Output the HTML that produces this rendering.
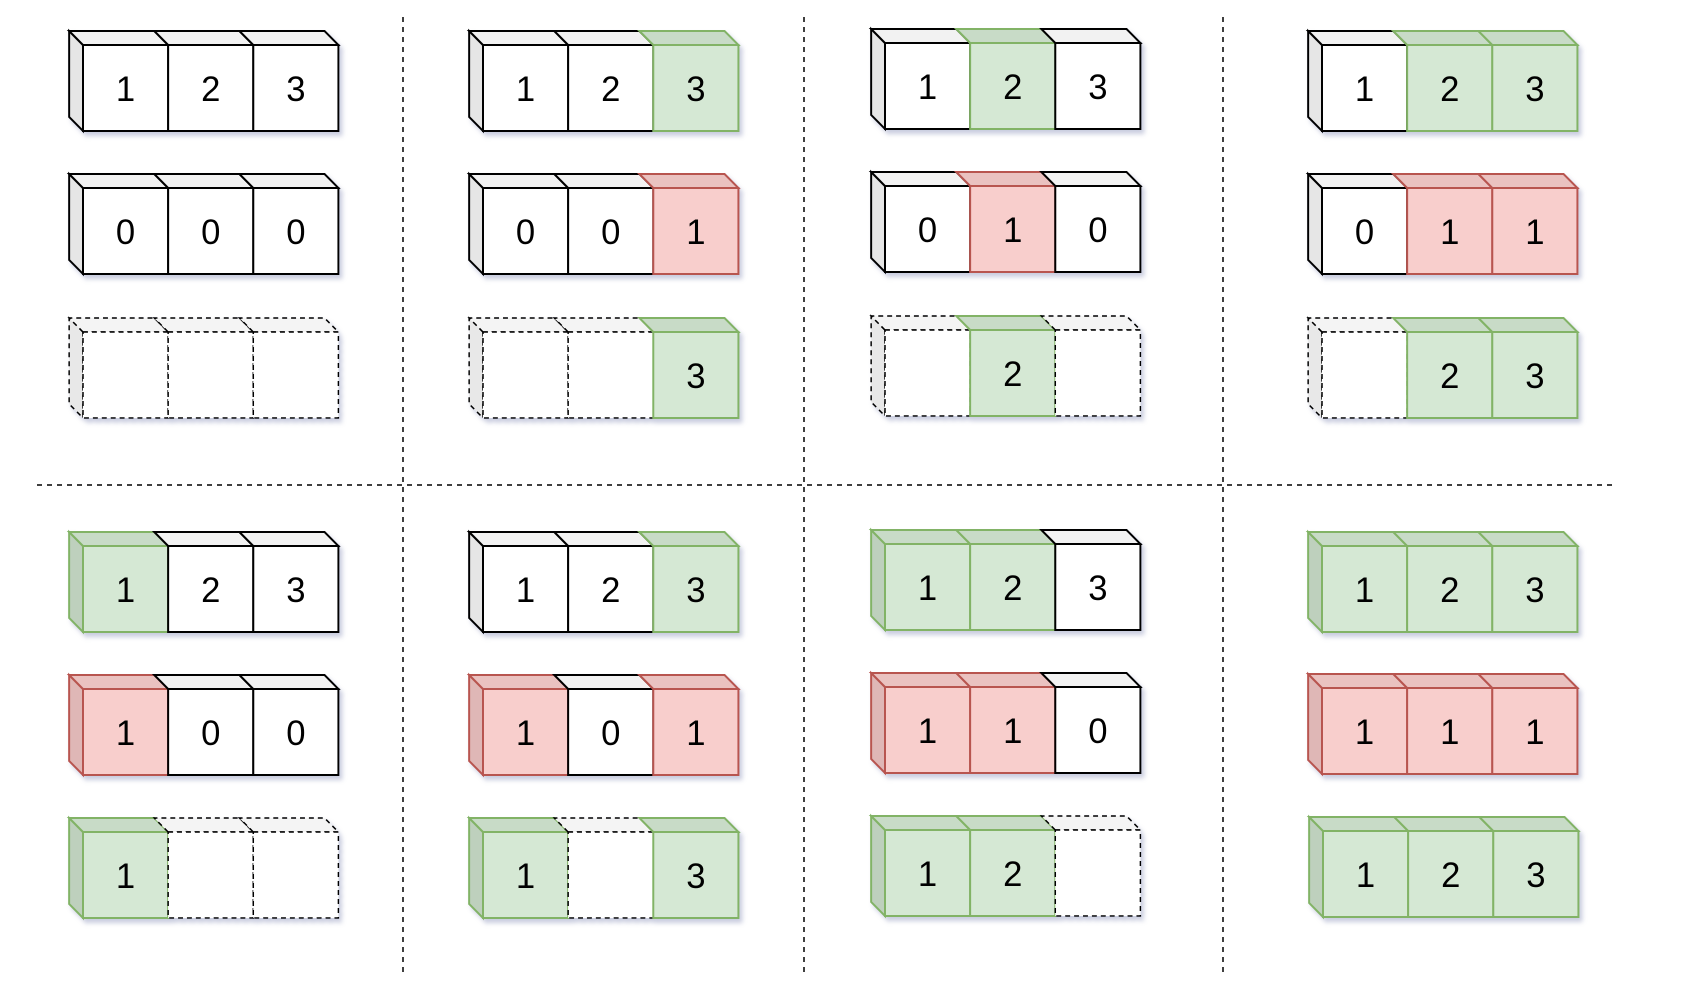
<!DOCTYPE html>
<html><head><meta charset="utf-8"><style>
html,body{margin:0;padding:0;background:#fff;}
svg{display:block}
text{font-family:"Liberation Sans",sans-serif;font-size:35px;text-anchor:middle;fill:#000;stroke:none!important}
.W rect{fill:#fff}.W .t{fill:#f2f2f2}.W .s{fill:#e6e6e6}.W *{stroke:#000;stroke-width:2}
.G rect{fill:#d5e8d4}.G .t{fill:#c8dbc7}.G .s{fill:#bed0bd}.G *{stroke:#82b366;stroke-width:2}
.R rect{fill:#f8cecc}.R .t{fill:#eac2c0}.R .s{fill:#dfb7b6}.R *{stroke:#b85450;stroke-width:2}
.D rect{fill:#fff}.D .t{fill:#f4f4f4}.D .s{fill:#e8e8e8}.D *{stroke:#000;stroke-width:1.5;stroke-dasharray:5 4}
.ln{stroke:#000;stroke-width:1.5;stroke-dasharray:5 5;fill:none}
</style></head><body>
<svg width="1682" height="1004" viewBox="0 0 1682 1004" xmlns="http://www.w3.org/2000/svg">
<defs>
<filter id="sh" x="-10%" y="-20%" width="130%" height="150%">
<feGaussianBlur in="SourceAlpha" stdDeviation="2.5"/>
<feOffset dx="3" dy="4" result="b"/>
<feFlood flood-color="#8890b8" flood-opacity="0.45"/>
<feComposite in2="b" operator="in"/>
<feMerge><feMergeNode/><feMergeNode in="SourceGraphic"/></feMerge>
</filter>
</defs>

<line class="ln" x1="403" y1="17" x2="403" y2="975"/>
<line class="ln" x1="804" y1="17" x2="804" y2="975"/>
<line class="ln" x1="1223" y1="17" x2="1223" y2="975"/>
<line class="ln" x1="37" y1="485" x2="1615" y2="485"/>

<!-- TOP col1 -->
<g transform="translate(83,45) scale(0.99,1)" filter="url(#sh)">
<g class="W"><polygon class="s" points="0,0 -14,-14 -14,72 0,86"/><polygon class="t" points="0,0 -14,-14 72,-14 86,0"/><rect width="86" height="86"/><text x="43" y="56">1</text></g>
<g class="W" transform="translate(86,0)"><polygon class="t" points="0,0 -14,-14 72,-14 86,0"/><rect width="86" height="86"/><text x="43" y="56">2</text></g>
<g class="W" transform="translate(172,0)"><polygon class="t" points="0,0 -14,-14 72,-14 86,0"/><rect width="86" height="86"/><text x="43" y="56">3</text></g>
</g>
<g transform="translate(83,188) scale(0.99,1)" filter="url(#sh)">
<g class="W"><polygon class="s" points="0,0 -14,-14 -14,72 0,86"/><polygon class="t" points="0,0 -14,-14 72,-14 86,0"/><rect width="86" height="86"/><text x="43" y="56">0</text></g>
<g class="W" transform="translate(86,0)"><polygon class="t" points="0,0 -14,-14 72,-14 86,0"/><rect width="86" height="86"/><text x="43" y="56">0</text></g>
<g class="W" transform="translate(172,0)"><polygon class="t" points="0,0 -14,-14 72,-14 86,0"/><rect width="86" height="86"/><text x="43" y="56">0</text></g>
</g>
<g transform="translate(83,332) scale(0.99,1)" filter="url(#sh)">
<g class="D"><polygon class="s" points="0,0 -14,-14 -14,72 0,86"/><polygon class="t" points="0,0 -14,-14 72,-14 86,0"/><rect width="86" height="86"/></g>
<g class="D" transform="translate(86,0)"><polygon class="t" points="0,0 -14,-14 72,-14 86,0"/><rect width="86" height="86"/></g>
<g class="D" transform="translate(172,0)"><polygon class="t" points="0,0 -14,-14 72,-14 86,0"/><rect width="86" height="86"/></g>
</g>

<!-- TOP col2 -->
<g transform="translate(483,45) scale(0.99,1)" filter="url(#sh)">
<g class="W"><polygon class="s" points="0,0 -14,-14 -14,72 0,86"/><polygon class="t" points="0,0 -14,-14 72,-14 86,0"/><rect width="86" height="86"/><text x="43" y="56">1</text></g>
<g class="W" transform="translate(86,0)"><polygon class="t" points="0,0 -14,-14 72,-14 86,0"/><rect width="86" height="86"/><text x="43" y="56">2</text></g>
<g class="G" transform="translate(172,0)"><polygon class="t" points="0,0 -14,-14 72,-14 86,0"/><rect width="86" height="86"/><text x="43" y="56">3</text></g>
</g>
<g transform="translate(483,188) scale(0.99,1)" filter="url(#sh)">
<g class="W"><polygon class="s" points="0,0 -14,-14 -14,72 0,86"/><polygon class="t" points="0,0 -14,-14 72,-14 86,0"/><rect width="86" height="86"/><text x="43" y="56">0</text></g>
<g class="W" transform="translate(86,0)"><polygon class="t" points="0,0 -14,-14 72,-14 86,0"/><rect width="86" height="86"/><text x="43" y="56">0</text></g>
<g class="R" transform="translate(172,0)"><polygon class="t" points="0,0 -14,-14 72,-14 86,0"/><rect width="86" height="86"/><text x="43" y="56">1</text></g>
</g>
<g transform="translate(483,332) scale(0.99,1)" filter="url(#sh)">
<g class="D"><polygon class="s" points="0,0 -14,-14 -14,72 0,86"/><polygon class="t" points="0,0 -14,-14 72,-14 86,0"/><rect width="86" height="86"/></g>
<g class="D" transform="translate(86,0)"><polygon class="t" points="0,0 -14,-14 72,-14 86,0"/><rect width="86" height="86"/></g>
<g class="G" transform="translate(172,0)"><polygon class="t" points="0,0 -14,-14 72,-14 86,0"/><rect width="86" height="86"/><text x="43" y="56">3</text></g>
</g>

<!-- TOP col3 -->
<g transform="translate(885,43) scale(0.99,1)" filter="url(#sh)">
<g class="W"><polygon class="s" points="0,0 -14,-14 -14,72 0,86"/><polygon class="t" points="0,0 -14,-14 72,-14 86,0"/><rect width="86" height="86"/><text x="43" y="56">1</text></g>
<g class="G" transform="translate(86,0)"><polygon class="t" points="0,0 -14,-14 72,-14 86,0"/><rect width="86" height="86"/><text x="43" y="56">2</text></g>
<g class="W" transform="translate(172,0)"><polygon class="t" points="0,0 -14,-14 72,-14 86,0"/><rect width="86" height="86"/><text x="43" y="56">3</text></g>
</g>
<g transform="translate(885,186) scale(0.99,1)" filter="url(#sh)">
<g class="W"><polygon class="s" points="0,0 -14,-14 -14,72 0,86"/><polygon class="t" points="0,0 -14,-14 72,-14 86,0"/><rect width="86" height="86"/><text x="43" y="56">0</text></g>
<g class="R" transform="translate(86,0)"><polygon class="t" points="0,0 -14,-14 72,-14 86,0"/><rect width="86" height="86"/><text x="43" y="56">1</text></g>
<g class="W" transform="translate(172,0)"><polygon class="t" points="0,0 -14,-14 72,-14 86,0"/><rect width="86" height="86"/><text x="43" y="56">0</text></g>
</g>
<g transform="translate(885,330) scale(0.99,1)" filter="url(#sh)">
<g class="D"><polygon class="s" points="0,0 -14,-14 -14,72 0,86"/><polygon class="t" points="0,0 -14,-14 72,-14 86,0"/><rect width="86" height="86"/></g>
<g class="G" transform="translate(86,0)"><polygon class="t" points="0,0 -14,-14 72,-14 86,0"/><rect width="86" height="86"/><text x="43" y="56">2</text></g>
<g class="D" transform="translate(172,0)"><polygon class="t" points="0,0 -14,-14 72,-14 86,0"/><rect width="86" height="86"/></g>
</g>

<!-- TOP col4 -->
<g transform="translate(1322,45) scale(0.99,1)" filter="url(#sh)">
<g class="W"><polygon class="s" points="0,0 -14,-14 -14,72 0,86"/><polygon class="t" points="0,0 -14,-14 72,-14 86,0"/><rect width="86" height="86"/><text x="43" y="56">1</text></g>
<g class="G" transform="translate(86,0)"><polygon class="t" points="0,0 -14,-14 72,-14 86,0"/><rect width="86" height="86"/><text x="43" y="56">2</text></g>
<g class="G" transform="translate(172,0)"><polygon class="t" points="0,0 -14,-14 72,-14 86,0"/><rect width="86" height="86"/><text x="43" y="56">3</text></g>
</g>
<g transform="translate(1322,188) scale(0.99,1)" filter="url(#sh)">
<g class="W"><polygon class="s" points="0,0 -14,-14 -14,72 0,86"/><polygon class="t" points="0,0 -14,-14 72,-14 86,0"/><rect width="86" height="86"/><text x="43" y="56">0</text></g>
<g class="R" transform="translate(86,0)"><polygon class="t" points="0,0 -14,-14 72,-14 86,0"/><rect width="86" height="86"/><text x="43" y="56">1</text></g>
<g class="R" transform="translate(172,0)"><polygon class="t" points="0,0 -14,-14 72,-14 86,0"/><rect width="86" height="86"/><text x="43" y="56">1</text></g>
</g>
<g transform="translate(1322,332) scale(0.99,1)" filter="url(#sh)">
<g class="D"><polygon class="s" points="0,0 -14,-14 -14,72 0,86"/><polygon class="t" points="0,0 -14,-14 72,-14 86,0"/><rect width="86" height="86"/></g>
<g class="G" transform="translate(86,0)"><polygon class="t" points="0,0 -14,-14 72,-14 86,0"/><rect width="86" height="86"/><text x="43" y="56">2</text></g>
<g class="G" transform="translate(172,0)"><polygon class="t" points="0,0 -14,-14 72,-14 86,0"/><rect width="86" height="86"/><text x="43" y="56">3</text></g>
</g>

<!-- BOTTOM col1 -->
<g transform="translate(83,546) scale(0.99,1)" filter="url(#sh)">
<g class="G"><polygon class="s" points="0,0 -14,-14 -14,72 0,86"/><polygon class="t" points="0,0 -14,-14 72,-14 86,0"/><rect width="86" height="86"/><text x="43" y="56">1</text></g>
<g class="W" transform="translate(86,0)"><polygon class="t" points="0,0 -14,-14 72,-14 86,0"/><rect width="86" height="86"/><text x="43" y="56">2</text></g>
<g class="W" transform="translate(172,0)"><polygon class="t" points="0,0 -14,-14 72,-14 86,0"/><rect width="86" height="86"/><text x="43" y="56">3</text></g>
</g>
<g transform="translate(83,689) scale(0.99,1)" filter="url(#sh)">
<g class="R"><polygon class="s" points="0,0 -14,-14 -14,72 0,86"/><polygon class="t" points="0,0 -14,-14 72,-14 86,0"/><rect width="86" height="86"/><text x="43" y="56">1</text></g>
<g class="W" transform="translate(86,0)"><polygon class="t" points="0,0 -14,-14 72,-14 86,0"/><rect width="86" height="86"/><text x="43" y="56">0</text></g>
<g class="W" transform="translate(172,0)"><polygon class="t" points="0,0 -14,-14 72,-14 86,0"/><rect width="86" height="86"/><text x="43" y="56">0</text></g>
</g>
<g transform="translate(83,832) scale(0.99,1)" filter="url(#sh)">
<g class="G"><polygon class="s" points="0,0 -14,-14 -14,72 0,86"/><polygon class="t" points="0,0 -14,-14 72,-14 86,0"/><rect width="86" height="86"/><text x="43" y="56">1</text></g>
<g class="D" transform="translate(86,0)"><polygon class="t" points="0,0 -14,-14 72,-14 86,0"/><rect width="86" height="86"/></g>
<g class="D" transform="translate(172,0)"><polygon class="t" points="0,0 -14,-14 72,-14 86,0"/><rect width="86" height="86"/></g>
</g>

<!-- BOTTOM col2 -->
<g transform="translate(483,546) scale(0.99,1)" filter="url(#sh)">
<g class="W"><polygon class="s" points="0,0 -14,-14 -14,72 0,86"/><polygon class="t" points="0,0 -14,-14 72,-14 86,0"/><rect width="86" height="86"/><text x="43" y="56">1</text></g>
<g class="W" transform="translate(86,0)"><polygon class="t" points="0,0 -14,-14 72,-14 86,0"/><rect width="86" height="86"/><text x="43" y="56">2</text></g>
<g class="G" transform="translate(172,0)"><polygon class="t" points="0,0 -14,-14 72,-14 86,0"/><rect width="86" height="86"/><text x="43" y="56">3</text></g>
</g>
<g transform="translate(483,689) scale(0.99,1)" filter="url(#sh)">
<g class="R"><polygon class="s" points="0,0 -14,-14 -14,72 0,86"/><polygon class="t" points="0,0 -14,-14 72,-14 86,0"/><rect width="86" height="86"/><text x="43" y="56">1</text></g>
<g class="W" transform="translate(86,0)"><polygon class="t" points="0,0 -14,-14 72,-14 86,0"/><rect width="86" height="86"/><text x="43" y="56">0</text></g>
<g class="R" transform="translate(172,0)"><polygon class="t" points="0,0 -14,-14 72,-14 86,0"/><rect width="86" height="86"/><text x="43" y="56">1</text></g>
</g>
<g transform="translate(483,832) scale(0.99,1)" filter="url(#sh)">
<g class="G"><polygon class="s" points="0,0 -14,-14 -14,72 0,86"/><polygon class="t" points="0,0 -14,-14 72,-14 86,0"/><rect width="86" height="86"/><text x="43" y="56">1</text></g>
<g class="D" transform="translate(86,0)"><polygon class="t" points="0,0 -14,-14 72,-14 86,0"/><rect width="86" height="86"/></g>
<g class="G" transform="translate(172,0)"><polygon class="t" points="0,0 -14,-14 72,-14 86,0"/><rect width="86" height="86"/><text x="43" y="56">3</text></g>
</g>

<!-- BOTTOM col3 -->
<g transform="translate(885,544) scale(0.99,1)" filter="url(#sh)">
<g class="G"><polygon class="s" points="0,0 -14,-14 -14,72 0,86"/><polygon class="t" points="0,0 -14,-14 72,-14 86,0"/><rect width="86" height="86"/><text x="43" y="56">1</text></g>
<g class="G" transform="translate(86,0)"><polygon class="t" points="0,0 -14,-14 72,-14 86,0"/><rect width="86" height="86"/><text x="43" y="56">2</text></g>
<g class="W" transform="translate(172,0)"><polygon class="t" points="0,0 -14,-14 72,-14 86,0"/><rect width="86" height="86"/><text x="43" y="56">3</text></g>
</g>
<g transform="translate(885,687) scale(0.99,1)" filter="url(#sh)">
<g class="R"><polygon class="s" points="0,0 -14,-14 -14,72 0,86"/><polygon class="t" points="0,0 -14,-14 72,-14 86,0"/><rect width="86" height="86"/><text x="43" y="56">1</text></g>
<g class="R" transform="translate(86,0)"><polygon class="t" points="0,0 -14,-14 72,-14 86,0"/><rect width="86" height="86"/><text x="43" y="56">1</text></g>
<g class="W" transform="translate(172,0)"><polygon class="t" points="0,0 -14,-14 72,-14 86,0"/><rect width="86" height="86"/><text x="43" y="56">0</text></g>
</g>
<g transform="translate(885,830) scale(0.99,1)" filter="url(#sh)">
<g class="G"><polygon class="s" points="0,0 -14,-14 -14,72 0,86"/><polygon class="t" points="0,0 -14,-14 72,-14 86,0"/><rect width="86" height="86"/><text x="43" y="56">1</text></g>
<g class="G" transform="translate(86,0)"><polygon class="t" points="0,0 -14,-14 72,-14 86,0"/><rect width="86" height="86"/><text x="43" y="56">2</text></g>
<g class="D" transform="translate(172,0)"><polygon class="t" points="0,0 -14,-14 72,-14 86,0"/><rect width="86" height="86"/></g>
</g>

<!-- BOTTOM col4 -->
<g transform="translate(1322,546) scale(0.99,1)" filter="url(#sh)">
<g class="G"><polygon class="s" points="0,0 -14,-14 -14,72 0,86"/><polygon class="t" points="0,0 -14,-14 72,-14 86,0"/><rect width="86" height="86"/><text x="43" y="56">1</text></g>
<g class="G" transform="translate(86,0)"><polygon class="t" points="0,0 -14,-14 72,-14 86,0"/><rect width="86" height="86"/><text x="43" y="56">2</text></g>
<g class="G" transform="translate(172,0)"><polygon class="t" points="0,0 -14,-14 72,-14 86,0"/><rect width="86" height="86"/><text x="43" y="56">3</text></g>
</g>
<g transform="translate(1322,688) scale(0.99,1)" filter="url(#sh)">
<g class="R"><polygon class="s" points="0,0 -14,-14 -14,72 0,86"/><polygon class="t" points="0,0 -14,-14 72,-14 86,0"/><rect width="86" height="86"/><text x="43" y="56">1</text></g>
<g class="R" transform="translate(86,0)"><polygon class="t" points="0,0 -14,-14 72,-14 86,0"/><rect width="86" height="86"/><text x="43" y="56">1</text></g>
<g class="R" transform="translate(172,0)"><polygon class="t" points="0,0 -14,-14 72,-14 86,0"/><rect width="86" height="86"/><text x="43" y="56">1</text></g>
</g>
<g transform="translate(1323,831) scale(0.99,1)" filter="url(#sh)">
<g class="G"><polygon class="s" points="0,0 -14,-14 -14,72 0,86"/><polygon class="t" points="0,0 -14,-14 72,-14 86,0"/><rect width="86" height="86"/><text x="43" y="56">1</text></g>
<g class="G" transform="translate(86,0)"><polygon class="t" points="0,0 -14,-14 72,-14 86,0"/><rect width="86" height="86"/><text x="43" y="56">2</text></g>
<g class="G" transform="translate(172,0)"><polygon class="t" points="0,0 -14,-14 72,-14 86,0"/><rect width="86" height="86"/><text x="43" y="56">3</text></g>
</g>
</svg>
</body></html>
